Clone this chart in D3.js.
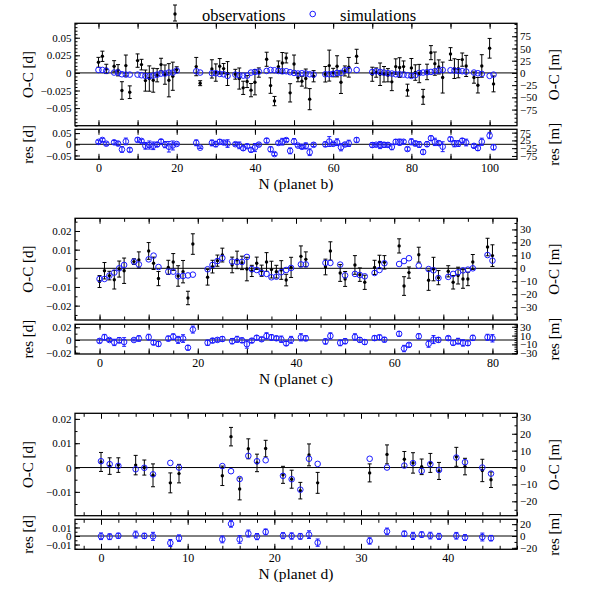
<!DOCTYPE html>
<html>
<head>
<meta charset="utf-8">
<script src="https://cdn.jsdelivr.net/npm/d3@7"></script>
<style>
  body { margin: 0; background: #fff; }
</style>
</head>
<body>
<div id="chart"></div>
<script>
// O-C diagrams for planets b, c, d: observations (black, with error bars),
// simulations (blue circles) and residuals below each panel

// planet b
var bN   = [0,1,2,4,5,6,7,8,10,11,12,13,14,15,16,17,18,19,20,25,26,29,30,31,32,33,35,36,37,38,39,40,41,
            43,44,45,46,47,48,49,50,51,52,53,54,55,58,59,60,61,62,63,64,66,70,71,72,73,74,75,76,77,78,
            79,80,81,82,83,84,85,86,87,88,90,91,92,93,94,96,97,98,100,101]
var bObs = [0.0151,0.0236,0.0057,0.0094,0.0038,-0.025,0.0104,-0.0274,
            0.0175,0.0118,-0.0109,-0.008,-0.0104,-0.0033,0.0118,-0.0024,-0.0104,-0.0047,0.0047,
            0.009,-0.0146,
            0.0057,0.0005,0.0094,0.0061,-0.0009,
            -0.0019,-0.008,-0.0212,-0.0123,-0.0245,-0.0132,0.0005,
            0.0194,-0.018,-0.04,0.009,0.014,0.0212,-0.0283,0.0127,-0.0066,-0.0118,-0.008,-0.0373,-0.0047,
            -0.0019,0.0104,0.0005,0.0094,-0.0132,0.0028,0.008,
            0.0236,
            -0.0019,0.0005,-0.0019,-0.0019,-0.0033,-0.0127,0.009,0.0076,0.009,-0.0245,0.0071,0.0005,-0.0009,-0.034,0.0014,0.0288,0.0132,0.0085,-0.0066,
            0.0269,0.0061,0.0061,0.0189,0.0099,
            -0.0066,-0.0175,0.0099,
            0.035,-0.0156]
var bErr = [0.007,0.0073,0.0066,0.008,0.008,0.0125,0.015,0.009,
            0.0095,0.0075,0.015,0.018,0.017,0.0094,0.009,0.0137,0.0236,0.02,0.004,
            0.013,0.0035,
            0.013,0.0123,0.011,0.0073,0.017,
            0.007,0.015,0.0094,0.0085,0.0094,0.018,0.0066,
            0.01,0.011,0.0066,0.008,0.015,0.007,0.013,0.0127,0.006,0.007,0.0135,0.015,0.008,
            0.011,0.022,0.006,0.015,0.016,0.0071,0.014,
            0.01,
            0.01,0.0066,0.016,0.011,0.0094,0.0125,0.011,0.014,0.008,0.0085,0.0134,0.011,0.013,0.0106,0.011,0.01,0.0165,0.01,0.022,
            0.009,0.014,0.013,0.0094,0.015,
            0.008,0.011,0.016,
            0.014,0.0113]
var bSim = [0.0042,0.0042,0.003,0.0005,0.0005,-0.0019,-0.0024,-0.0024,
            -0.0024,-0.0033,-0.0042,-0.0047,-0.0038,-0.0024,-0.0009,-0.0009,0.0005,0.0005,0.0033,
            0.0024,0.0005,
            -0.0005,-0.0005,-0.0014,-0.0019,-0.0042,
            -0.0024,-0.0033,-0.0038,-0.0038,0.0005,0.0014,0.0019,
            0.0028,0.0042,0.0038,0.0028,0.0024,0.0024,0.001,0,-0.0009,-0.0005,-0.0009,-0.0019,-0.0024,
            -0.0019,-0.0019,-0.0014,0,0,0.0038,0.0038,
            0.0042,
            0.0014,0.0024,0.0014,0.0005,-0.0005,-0.0009,-0.0019,-0.0019,-0.0024,-0.0033,-0.0042,-0.0033,0,0.0005,0.0009,0.0014,0.0024,0.0033,0.0042,
            0.0038,0.0033,0.0028,0.0024,0.0019,
            0.0005,-0.0005,-0.0014,
            -0.0042,-0.0024]
var bRes = [0.0109,0.0194,0.0027,0.0089,0.0033,-0.0231,0.0128,-0.025,
            0.0199,0.0151,-0.0067,-0.0033,-0.0066,-0.0009,0.0127,-0.0015,-0.0109,-0.0052,0.0014,
            0.0066,-0.0151,
            0.0062,0.001,0.0108,0.008,0.0033,
            0.0005,-0.0047,-0.0174,-0.0085,-0.025,-0.0146,-0.0014,
            0.0166,-0.0222,-0.0438,0.0062,0.0116,0.0188,-0.0293,0.0127,-0.0057,-0.0113,-0.0071,-0.0354,-0.0023,
            0,0.0123,0.0019,0.0094,-0.0132,-0.001,0.0042,
            0.0194,
            -0.0033,-0.0019,-0.0033,-0.0024,-0.0028,-0.0118,0.0109,0.0095,0.0114,-0.0212,0.0113,0.0038,-0.0009,-0.0345,0.0005,0.0274,0.0108,0.0052,-0.0108,
            0.0231,0.0028,0.0033,0.0165,0.008,
            -0.0071,-0.017,0.0113,
            0.0392,-0.0132]

// planet c
var cN   = [0,1,2,3,4,5,7,8,10,11,12,14,15,16,17,18,19,22,23,24,25,27,28,29,30,31,32,33,34,35,36,37,38,39,
            41,42,46,47,49,50,52,53,54,56,57,58,61,62,63,65,67,68,69,71,72,73,74,75,76,79,80]
var cObs = [-0.0071,-0.0013,-0.0039,-0.0061,-0.0004,-0.0013,0.0036,0.0045,0.0093,0.0027,-0.0055,0.0005,0.0034,
            -0.0041,-0.0018,-0.0159,0.013,-0.0048,0.0009,0.0041,0.0071,0.0018,0.0045,0.0029,-0.0004,-0.0014,
            0.0027,-0.0013,0.0034,-0.0007,-0.0018,-0.0009,-0.0063,0.0005,0.0064,0.0048,0.0007,0.0093,-0.0025,
            -0.0057,0.0018,-0.0034,-0.0075,0.0005,0.0034,0.0032,0.012,-0.0095,-0.0023,0.0073,-0.0064,-0.0004,
            -0.005,-0.0016,-0.0075,-0.0039,-0.0057,-0.0057,0.0034,0.0114,0.0068]
var cErr = [0.0032,0.0044,0.0023,0.005,0.0043,0.0068,0.0015,0.0043,0.0045,0.0033,0.0038,0.0038,0.0045,
            0.0055,0.006,0.0036,0.0055,0.0042,0.0034,0.003,0.0037,0.0042,0.0047,0.0036,0.0063,0.003,
            0.0033,0.003,0.005,0.0045,0.0034,0.005,0.0031,0.0054,0.0056,0.004,0.0042,0.0049,0.0045,
            0.004,0.005,0.0036,0.0038,0.0038,0.0036,0.0036,0.0038,0.005,0.003,0.004,0.0054,0.0063,
            0.0038,0.003,0.0036,0.0045,0.005,0.0036,0.004,0.0047,0.0058]
var cSim = [-0.0057,-0.0057,-0.0039,-0.0023,0,0.0018,0.0036,0.0021,0.0048,0.0068,0.0007,-0.0018,-0.0018,
            -0.0043,-0.0041,-0.0038,-0.0034,-0.0005,0.0018,0.0039,0.0055,0.0036,0.0034,0.0034,0.0061,-0.0004,
            -0.0009,-0.0025,-0.003,-0.0048,-0.0045,-0.0021,-0.0009,0.0002,0.0021,0.0021,0.0029,0.0029,0.002,
            -0.0038,-0.003,-0.0036,-0.0043,-0.0025,-0.0009,0.0027,0.0023,0.0039,0.0054,0.0014,-0.0004,-0.0011,
            -0.0052,-0.0046,-0.003,-0.0021,-0.0011,-0.0007,0,0.0071,0.0041]
var cRes = [-0.0014,0.0044,0,-0.0038,-0.0004,-0.0031,0,0.0024,0.0045,-0.0041,-0.0062,0.0023,0.0052,
            0.0002,0.0023,-0.0121,0.0164,-0.0043,-0.0009,0.0002,0.0016,-0.0018,0.0011,-0.0005,-0.0065,-0.001,
            0.0036,0.0012,0.0064,0.0041,0.0027,0.0012,-0.0054,0.0003,0.0043,0.0027,-0.0022,0.0064,-0.0045,
            -0.0019,0.0048,0.0002,-0.0032,0.003,0.0043,0.0005,0.0097,-0.0134,-0.0077,0.0059,-0.006,0.0007,
            0.0002,0.003,-0.0045,-0.0018,-0.0046,-0.005,0.0034,0.0043,0.0027]

// planet d
var dN   = [0,1,2,4,5,6,8,9,14,15,16,17,18,19,21,22,23,24,25,31,33,35,36,37,38,39,41,42,44,45]
var dObs = [0.0023,0.0006,0.001,0.001,0,-0.0032,-0.0063,-0.0025,-0.0034,0.0127,-0.0088,0.0077,0.0019,0.0078,
            -0.003,-0.0048,-0.0095,0.0052,-0.0063,-0.0022,0.0054,0.0034,0.0019,0.0003,0.0019,-0.0014,0.0044,
            0.0004,-0.0012,-0.005]
var dErr = [0.0039,0.0034,0.003,0.004,0.0031,0.0047,0.0041,0.0038,0.004,0.0038,0.0045,0.0041,0.0036,0.0034,
            0.0035,0.0037,0.0034,0.0045,0.0043,0.0037,0.0039,0.0032,0.0042,0.0032,0.0039,0.0035,0.0039,
            0.0034,0.0046,0.0032]
var dSim = [0.0026,0.0014,0.0007,-0.0007,-0.0001,-0.0028,0.0019,0,0.0006,-0.0015,-0.0047,0.0048,0.0026,0.003,
            -0.0034,-0.0048,-0.0091,0.0036,0.0015,0.0036,0,0.0008,0.0018,-0.0014,0.0014,-0.001,0.0041,
            0.0022,0,-0.0025]
var dRes = [-0.0003,-0.0008,0.0003,0.0017,0.0001,-0.0004,-0.0082,-0.0025,-0.004,0.0142,-0.0041,0.0029,-0.0007,0.0048,
            0.0004,0,-0.0004,0.0016,-0.0078,-0.0058,0.0054,0.0026,0.0001,0.0017,0.0005,-0.0004,0.0003,
            -0.0018,-0.0012,-0.0025]

// tick labels
var bTicksX = [0,20,40,60,80,100]
var bTicksL = [-0.05,-0.025,0,0.025,0.05]
var bTicksR = [-75,-50,-25,0,25,50,75]
var bResL   = [-0.05,0,0.05]
var bResR   = [-75,-25,25,75]

var cTicksX = [0,20,40,60,80]
var cTicksL = [-0.02,-0.01,0,0.01,0.02]
var cTicksR = [-30,-20,-10,0,10,20,30]
var cResL   = [-0.02,0,0.02]
var cResR   = [-30,-10,10,30]

var dTicksX = [0,10,20,30,40]
var dTicksL = [-0.01,0,0.01,0.02]
var dTicksR = [-20,-10,0,10,20,30]
var dResL   = [-0.01,0,0.01]
var dResR   = [-20,0,20]

var MIN_PER_DAY = 1440
var X0 = 75, X1 = 517
var FONT = "'Liberation Serif', 'DejaVu Serif', serif"
var BLUE = "#1a1aff"

var svg = d3.select("#chart")
    .append("svg")
    .attr("width", 592)
    .attr("height", 593)
    .style("font-family", FONT)

// multiples of step inside a domain
function steps(dom, step) {
    var a = []
    var lo = Math.ceil(dom[0] / step - 1e-6), hi = Math.floor(dom[1] / step + 1e-6)
    for (var k = lo; k <= hi; k++) a.push(+(k * step).toFixed(6))
    return a
}

var fmt = function(d) {
    return d === 0 ? "0" : (d < 0 ? "\u2212" : "") + Math.abs(d)
}

// draws one axis (inward ticks), optional labels
function axis(gen, scale, pos, vals, len, labels, pad, size) {
    var g = svg.append("g")
        .attr("transform", pos)
        .call(gen(scale).tickValues(vals).tickSize(-len).tickPadding(pad || 3)
            .tickFormat(labels ? fmt : ""))
    g.select(".domain").remove()
    g.attr("font-family", FONT).attr("font-size", size || 11)
    g.selectAll("line").attr("stroke-width", 1)
    return g
}

function errBars(g, data, x, y, color) {
    var e = g.append("g").attr("stroke", color).attr("stroke-width", 1)
    e.selectAll(".v").data(data).enter().append("line")
        .attr("x1", d => x(d.n)).attr("x2", d => x(d.n))
        .attr("y1", d => y(d.v - d.e)).attr("y2", d => y(d.v + d.e))
    e.selectAll(".t").data(data).enter().append("line")
        .attr("x1", d => x(d.n) - 2).attr("x2", d => x(d.n) + 2)
        .attr("y1", d => y(d.v + d.e)).attr("y2", d => y(d.v + d.e))
    e.selectAll(".b").data(data).enter().append("line")
        .attr("x1", d => x(d.n) - 2).attr("x2", d => x(d.n) + 2)
        .attr("y1", d => y(d.v - d.e)).attr("y2", d => y(d.v - d.e))
}

function panel(p) {
    var x = d3.scaleLinear().domain(p.xDom).range([X0, X1])
    var y = d3.scaleLinear().domain(p.yDom).range([p.mainB, p.mainT])
    var yr = d3.scaleLinear().domain(p.resDom).range([p.resB, p.resT])
    var ym = d3.scaleLinear().domain(p.yDom.map(v => v * MIN_PER_DAY)).range([p.mainB, p.mainT])
    var yrm = d3.scaleLinear().domain(p.resDom.map(v => v * MIN_PER_DAY)).range([p.resB, p.resT])

    var obs = p.N.map((n, i) => ({n: n, v: p.obs[i], e: p.err[i]}))
    var res = p.N.map((n, i) => ({n: n, v: p.res[i], e: p.err[i]}))

    // x ticks on every frame edge
    var xMaj = steps(p.xDom, p.xMaj), xMin = steps(p.xDom, p.xMin)
    ;[p.mainT, p.resT].forEach(function(t) {
        axis(d3.axisTop, x, `translate(0,${t})`, xMin, 3.5)
        axis(d3.axisTop, x, `translate(0,${t})`, xMaj, 5.5)
    })
    axis(d3.axisBottom, x, `translate(0,${p.mainB})`, xMin, 3.5)
    axis(d3.axisBottom, x, `translate(0,${p.mainB})`, xMaj, 5.5)
    axis(d3.axisBottom, x, `translate(0,${p.resB})`, xMin, 3.5)
    axis(d3.axisBottom, x, `translate(0,${p.resB})`, xMaj, 5.5)
    axis(d3.axisBottom, x, `translate(0,${p.resB})`, p.ticksX, 0, true, 4.5, 12)

    // y ticks, days on the left, minutes on the right
    axis(d3.axisLeft, y, `translate(${X0},0)`, steps(p.yDom, p.yMin), 2.5)
    axis(d3.axisLeft, y, `translate(${X0},0)`, p.ticksL, 5, true, 3.5)
    axis(d3.axisRight, ym, `translate(${X1},0)`, steps(ym.domain(), p.mMin), 2.5)
    axis(d3.axisRight, ym, `translate(${X1},0)`, p.ticksR, 5, true, 3)
    axis(d3.axisLeft, yr, `translate(${X0},0)`, steps(p.resDom, p.rMin), 2.5)
    axis(d3.axisLeft, yr, `translate(${X0},0)`, p.resL, 5, true, 3.5)
    axis(d3.axisRight, yrm, `translate(${X1},0)`, steps(yrm.domain(), p.rmMin), 2.5)
    axis(d3.axisRight, yrm, `translate(${X1},0)`, p.resR, 5, true, 3)

    // frames
    svg.append("rect").attr("x", X0).attr("y", p.mainT).attr("width", X1 - X0)
        .attr("height", p.mainB - p.mainT).attr("fill", "none").attr("stroke", "#000").attr("stroke-width", 1.3)
    svg.append("rect").attr("x", X0).attr("y", p.resT).attr("width", X1 - X0)
        .attr("height", p.resB - p.resT).attr("fill", "none").attr("stroke", "#000").attr("stroke-width", 1.3)

    // zero lines
    svg.append("line").attr("x1", X0).attr("x2", X1).attr("y1", y(0)).attr("y2", y(0))
        .attr("stroke", "#000").attr("stroke-width", 1)
    svg.append("line").attr("x1", X0).attr("x2", X1).attr("y1", yr(0)).attr("y2", yr(0))
        .attr("stroke", "#000").attr("stroke-width", 1)

    // observations
    var g = svg.append("g")
    errBars(g, obs, x, y, "#000")
    g.selectAll(".o").data(obs).enter().append("circle")
        .attr("cx", d => x(d.n)).attr("cy", d => y(d.v)).attr("r", 1.7).attr("fill", "#000")

    // simulations
    g.selectAll(".s").data(p.N).enter().append("circle")
        .attr("cx", d => x(d)).attr("cy", (d, i) => y(p.sim[i])).attr("r", 2.8)
        .attr("fill", "none").attr("stroke", BLUE).attr("stroke-width", 1)

    // residuals
    var r = svg.append("g")
    errBars(r, res, x, yr, BLUE)
    r.selectAll(".r").data(res).enter().append("circle")
        .attr("cx", d => x(d.n)).attr("cy", d => yr(d.v)).attr("r", 2.8)
        .attr("fill", "none").attr("stroke", BLUE).attr("stroke-width", 1)

    // titles
    function vtitle(tx, ty, s) {
        svg.append("text").attr("transform", `translate(${tx},${ty}) rotate(-90)`)
            .attr("text-anchor", "middle").attr("dominant-baseline", "central")
            .style("font-size", "15px").text(s)
    }
    vtitle(28, (p.mainT + p.mainB) / 2, "O-C [d]")
    vtitle(28, (p.resT + p.resB) / 2, "res [d]")
    vtitle(554, (p.mainT + p.mainB) / 2, "O-C [m]")
    vtitle(554, (p.resT + p.resB) / 2, "res [m]")
    svg.append("text").attr("x", (X0 + X1) / 2).attr("y", p.resB + 30)
        .attr("text-anchor", "middle").style("font-size", "15.5px").text(p.title)
}

panel({N: bN, obs: bObs, err: bErr, sim: bSim, res: bRes, title: "N (planet b)",
       xDom: [-6, 107], yDom: [-0.075, 0.0705], resDom: [-0.067, 0.067],
       mainT: 23.3, mainB: 125.7, resT: 129.3, resB: 159.3,
       ticksX: bTicksX, ticksL: bTicksL, ticksR: bTicksR, resL: bResL, resR: bResR,
       xMaj: 10, xMin: 10, yMin: 0.005, mMin: 25 / 3, rMin: 0.025, rmMin: 25})

panel({N: cN, obs: cObs, err: cErr, sim: cSim, res: cRes, title: "N (planet c)",
       xDom: [-5, 85], yDom: [-0.0277, 0.0268], resDom: [-0.022, 0.0247],
       mainT: 218.3, mainB: 320, resT: 324.3, resB: 354,
       ticksX: cTicksX, ticksL: cTicksL, ticksR: cTicksR, resL: cResL, resR: cResR,
       xMaj: 10, xMin: 5, yMin: 0.005, mMin: 5, rMin: 0.01, rmMin: 5})

panel({N: dN, obs: dObs, err: dErr, sim: dSim, res: dRes, title: "N (planet d)",
       xDom: [-3, 48], yDom: [-0.0198, 0.0223], resDom: [-0.0156, 0.0196],
       mainT: 413.3, mainB: 515.7, resT: 519.3, resB: 549.3,
       ticksX: dTicksX, ticksL: dTicksL, ticksR: dTicksR, resL: dResL, resR: dResR,
       xMaj: 10, xMin: 2, yMin: 0.005, mMin: 5, rMin: 0.005, rmMin: 10})

// legend
var lg = svg.append("g")
lg.append("line").attr("x1", 175).attr("x2", 175).attr("y1", 5).attr("y2", 21).attr("stroke", "#000")
lg.append("line").attr("x1", 173).attr("x2", 177).attr("y1", 5).attr("y2", 5).attr("stroke", "#000")
lg.append("line").attr("x1", 173).attr("x2", 177).attr("y1", 21).attr("y2", 21).attr("stroke", "#000")
lg.append("circle").attr("cx", 175).attr("cy", 14).attr("r", 1.7).attr("fill", "#000")
lg.append("text").attr("x", 202).attr("y", 20.5).style("font-size", "16.5px").text("observations")
lg.append("circle").attr("cx", 312.7).attr("cy", 14).attr("r", 2.8)
    .attr("fill", "none").attr("stroke", BLUE).attr("stroke-width", 1)
lg.append("text").attr("x", 340).attr("y", 20.5).style("font-size", "16.5px").text("simulations")
</script>
</body>
</html>
